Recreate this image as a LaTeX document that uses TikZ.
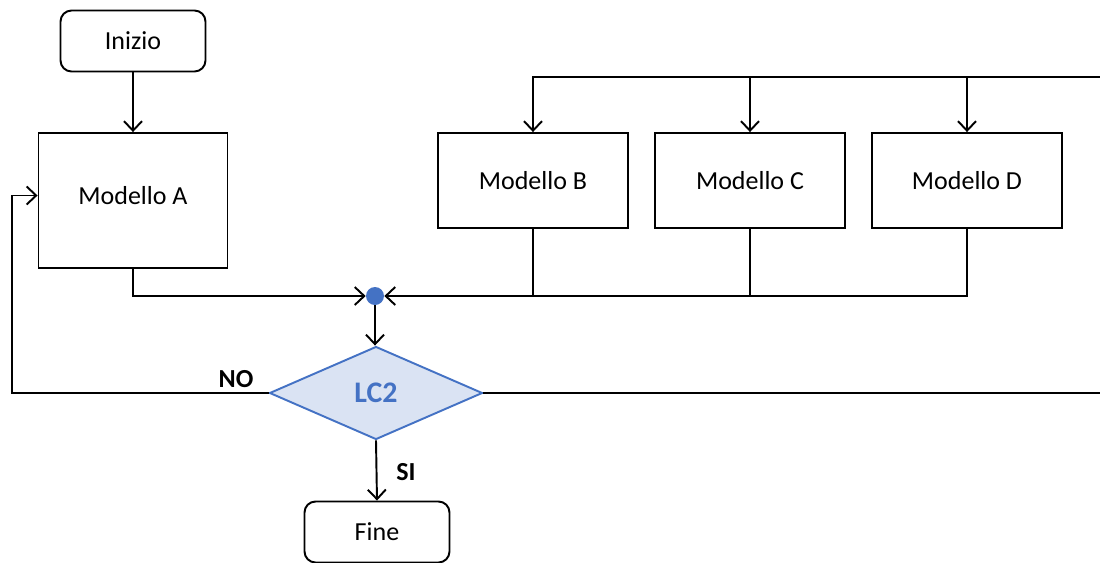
\documentclass[tikz,border=0pt]{standalone}
\usepackage{fontspec}
\setmainfont{Carlito}
\usetikzlibrary{shapes.geometric,arrows.meta}
\definecolor{lcblue}{HTML}{4472C4}
\definecolor{lcfill}{HTML}{DAE3F3}
\tikzstyle{rect} = [rectangle, draw=black, line width=1.1pt, minimum height=1.9cm, minimum width=3.8cm, text centered, font=\fontsize{14.8}{17}\selectfont]
\tikzstyle{term} = [rectangle, rounded corners=0.22cm, draw=black, line width=1.1pt, minimum height=1.22cm, minimum width=2.9cm, text centered, font=\fontsize{14.8}{17}\selectfont]
\tikzstyle{link} = [line width=1.1pt, -{Straight Barb[length=1.9mm,width=3.6mm]}]
\tikzstyle{tag} = [font=\fontsize{14.8}{17}\selectfont\bfseries]

\begin{document}
\begin{tikzpicture}[x=0.02cm, y=-0.02cm]

            \useasboundingbox (0,0) rectangle (1100,562);

            \node (inizio) [term] at (133,41) {Inizio};
            \node (modA) [rect, minimum width=3.78cm, minimum height=2.7cm, text depth=0.2cm] at (133,200.5) {Modello A};
            \node (modB) [rect] at (533,180.5) {Modello B};
            \node (modC) [rect] at (750,180.5) {Modello C};
            \node (modD) [rect] at (967,180.5) {Modello D};

            \node (dot) [circle, fill=lcblue, inner sep=0pt, minimum size=0.36cm] at (375,296) {};
            \node (lc2) [diamond, draw=lcblue, fill=lcfill, line width=1.1pt, inner sep=0pt, minimum width=4.26cm, minimum height=1.86cm, text=lcblue, font=\fontsize{17}{20}\selectfont\bfseries] at (376,393) {LC2};
            \node (fine) [term] at (377,532) {Fine};

            \coordinate (rb) at (1104,393);
            \coordinate (rt) at (1104,77);
            \coordinate (nl) at (12,393);

            %% entrata
            \draw [link] (inizio) -- (modA);

            %% ramo destro
            \draw [link] (lc2.east) -- (rb) -- (rt) -| (modB.north);
            \draw [link] (modC.north |- rt) -- (modC.north);
            \draw [link] (modD.north |- rt) -- (modD.north);

            %% raccolta
            \draw [link] (modA.south) |- (dot.west);
            \draw [link] (modD.south) |- (dot.east);
            \draw [line width=1.1pt] (modB.south) -- (modB.south |- dot);
            \draw [line width=1.1pt] (modC.south) -- (modC.south |- dot);
            \draw [link] (dot) -- (dot |- lc2.north);

            %% uscite
            \draw [link] (lc2.west) -- (nl) |- ([yshift=0.1cm]modA.west);
            \draw [link] (lc2.south) -- (fine.north);

            \node [tag] at (236,379) {NO};
            \node [tag] at (406,472) {SI};

        \end{tikzpicture}
\end{document}
